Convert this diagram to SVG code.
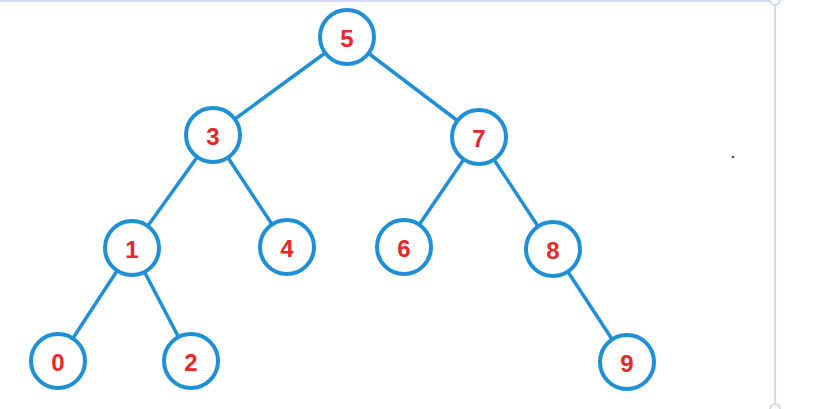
<svg xmlns="http://www.w3.org/2000/svg" width="823" height="409" viewBox="0 0 823 409">
<style>
.n circle{fill:#fff;stroke:#1f8fd6;stroke-width:4}
.n text{font-family:"Liberation Sans",Arial,sans-serif;font-weight:bold;font-size:24px;fill:#e8272b;text-anchor:middle;dominant-baseline:central}
#edges line{stroke:#1f8fd6;stroke-width:3.5}
</style>
<rect width="823" height="409" fill="#fff"/>
<g id="frame" stroke="#c9cdee" stroke-width="1.5" fill="#fff">
<line x1="0" y1="1" x2="770" y2="1"/>
<line x1="775" y1="5" x2="775" y2="403"/>
<circle cx="775" cy="0" r="5"/>
<circle cx="775" cy="409" r="5"/>
</g>
<circle cx="733" cy="157" r="1.3" fill="#555"/>
<g id="edges">
<line x1="347" y1="37" x2="213" y2="135"/>
<line x1="347" y1="37" x2="479" y2="137"/>
<line x1="213" y1="135" x2="132" y2="248"/>
<line x1="213" y1="135" x2="287" y2="247"/>
<line x1="479" y1="137" x2="404" y2="247"/>
<line x1="479" y1="137" x2="553" y2="249"/>
<line x1="132" y1="248" x2="58" y2="361"/>
<line x1="132" y1="248" x2="191" y2="361"/>
<line x1="553" y1="249" x2="627" y2="362"/>
</g>
<g id="node5" class="n"><circle cx="347" cy="37" r="27"/><text x="347" y="38">5</text></g>
<g id="node3" class="n"><circle cx="213" cy="135" r="27"/><text x="213" y="136">3</text></g>
<g id="node7" class="n"><circle cx="479" cy="137" r="27"/><text x="479" y="138">7</text></g>
<g id="node1" class="n"><circle cx="132" cy="248" r="27"/><text x="132" y="249">1</text></g>
<g id="node4" class="n"><circle cx="287" cy="247" r="27"/><text x="287" y="248">4</text></g>
<g id="node6" class="n"><circle cx="404" cy="247" r="27"/><text x="404" y="248">6</text></g>
<g id="node8" class="n"><circle cx="553" cy="249" r="27"/><text x="553" y="250">8</text></g>
<g id="node0" class="n"><circle cx="58" cy="361" r="27"/><text x="58" y="362">0</text></g>
<g id="node2" class="n"><circle cx="191" cy="361" r="27"/><text x="191" y="362">2</text></g>
<g id="node9" class="n"><circle cx="627" cy="362" r="27"/><text x="627" y="363">9</text></g>
</svg>
